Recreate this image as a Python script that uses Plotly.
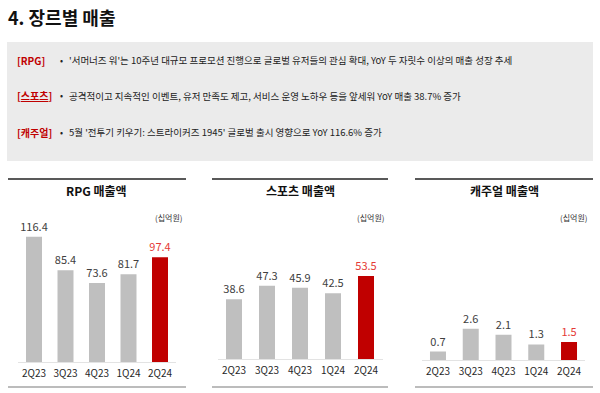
import plotly.graph_objects as go

W, H = 600, 393
FONT = "Noto Sans CJK KR"

quarters = ["2Q23", "3Q23", "4Q23", "1Q24", "2Q24"]
rpg_values = [116.4, 85.4, 73.6, 81.7, 97.4]
sports_values = [38.6, 47.3, 45.9, 42.5, 53.5]
casual_values = [0.7, 2.6, 2.1, 1.3, 1.5]

panel_titles = ["RPG 매출액", "스포츠 매출액", "캐주얼 매출액"]
unit_label = "(십억원)"
page_title = "4. 장르별 매출"
box_labels = ["[RPG]", "[<u>스포츠</u>]", "[캐주얼]"]
box_texts = [
    "'서머너즈 워'는 10주년 대규모 프로모션 진행으로 글로벌 유저들의 관심 확대, YoY 두 자릿수 이상의 매출 성장 추세",
    "공격적이고 지속적인 이벤트, 유저 만족도 제고, 서비스 운영 노하우 등을 앞세워 YoY 매출 38.7% 증가",
    "5월 '전투기 키우기: 스트라이커즈 1945' 글로벌 출시 영향으로 YoY 116.6% 증가",
]

GRAY = "#BFBFBF"
RED = "#C00000"
LABEL_GRAY = "#404040"
LABEL_RED = "#E53935"

def px_x(x):
    return x / W

def px_y(y):
    return 1 - y / H

# panel geometry (pixels)
panels = [
    dict(values=rpg_values, xl=18.25, xr=175.75, base=362, scale=1.075, line=(8, 186), title_x=97, unit_x=185),
    dict(values=sports_values, xl=217.5, xr=382.5, base=359, scale=1.55, line=(212, 388), title_x=300, unit_x=387),
    dict(values=casual_values, xl=421.6, xr=585.4, base=360, scale=12.0, line=(415, 593), title_x=504, unit_x=590),
]
TOP = 200

fig = go.Figure()
layout_axes = {}
annotations = []
shapes = []

for i, p in enumerate(panels, start=1):
    xa = "x" if i == 1 else f"x{i}"
    ya = "y" if i == 1 else f"y{i}"
    vals = p["values"]
    colors = [GRAY] * (len(vals) - 1) + [RED]
    tcolors = [LABEL_GRAY] * (len(vals) - 1) + [LABEL_RED]
    spacing = (p["xr"] - p["xl"]) / len(vals)
    fig.add_trace(go.Bar(
        x=quarters, y=vals, xaxis=xa, yaxis=ya,
        marker=dict(color=colors, line=dict(width=0)),
        width=16 / spacing,
        text=[f"{v:.1f}" for v in vals], textposition="outside",
        constraintext="none",
        textfont=dict(family=FONT, size=11, color=tcolors),
        cliponaxis=False, hoverinfo="skip", showlegend=False,
    ))
    h_px = p["base"] - TOP
    key_x = "xaxis" if i == 1 else f"xaxis{i}"
    key_y = "yaxis" if i == 1 else f"yaxis{i}"
    layout_axes[key_x] = dict(
        domain=[px_x(p["xl"]), px_x(p["xr"])], anchor=ya,
        showgrid=False, zeroline=False, showline=True, linecolor="#E3E3E3", linewidth=1,
        ticks="outside", ticklen=2, tickcolor="rgba(0,0,0,0)",
        tickfont=dict(family=FONT, size=10, color="#262626"), fixedrange=True,
    )
    layout_axes[key_y] = dict(
        domain=[px_y(p["base"]), px_y(TOP)], anchor=xa,
        range=[0, h_px / p["scale"]], visible=False, fixedrange=True,
    )
    # top and bottom rules
    shapes.append(dict(type="line", xref="paper", yref="paper",
                       x0=px_x(p["line"][0]), x1=px_x(p["line"][1]),
                       y0=px_y(179), y1=px_y(179), line=dict(color="#595959", width=2)))
    shapes.append(dict(type="line", xref="paper", yref="paper",
                       x0=px_x(p["line"][0]), x1=px_x(p["line"][1]),
                       y0=px_y(387), y1=px_y(387), line=dict(color="#A6A6A6", width=1.5)))
    annotations.append(dict(text=f"<b>{panel_titles[i-1]}</b>", xref="paper", yref="paper",
                            x=px_x(p["title_x"]), y=px_y(191), xanchor="center", yanchor="middle",
                            showarrow=False, font=dict(family=FONT, size=12, color="#111111")))
    annotations.append(dict(text=unit_label, xref="paper", yref="paper",
                            x=px_x(p["unit_x"]), y=px_y(217), xanchor="right", yanchor="middle",
                            showarrow=False, font=dict(family=FONT, size=8, color="#333333")))

# grey info box
shapes.append(dict(type="rect", xref="paper", yref="paper", layer="below",
                   x0=px_x(7), x1=px_x(593), y0=px_y(161), y1=px_y(42),
                   fillcolor="#EBEBEB", line=dict(width=0)))

for lab, txt, yy in zip(box_labels, box_texts, [60, 96, 132]):
    annotations.append(dict(text=f"<b>{lab}</b>", xref="paper", yref="paper",
                            x=px_x(15), y=px_y(yy), xanchor="left", yanchor="middle",
                            showarrow=False, font=dict(family=FONT, size=10, color=RED)))
    annotations.append(dict(text="•", xref="paper", yref="paper",
                            x=px_x(58), y=px_y(yy), xanchor="left", yanchor="middle",
                            showarrow=False, font=dict(family=FONT, size=9, color="#222222")))
    annotations.append(dict(text=txt, xref="paper", yref="paper",
                            x=px_x(67), y=px_y(yy), xanchor="left", yanchor="middle",
                            showarrow=False, font=dict(family=FONT, size=9.5, color="#222222")))

annotations.append(dict(text=f"<b>{page_title}</b>", xref="paper", yref="paper",
                        x=px_x(6), y=px_y(17), xanchor="left", yanchor="middle",
                        showarrow=False, font=dict(family=FONT, size=18, color="#111111")))

fig.update_layout(
    width=W, height=H, margin=dict(l=0, r=0, t=0, b=0),
    paper_bgcolor="white", plot_bgcolor="white",
    annotations=annotations, shapes=shapes, **layout_axes,
)

fig.write_html("out.html", config={"displayModeBar": False},
               post_script="document.body.style.margin='0';document.body.style.overflow='hidden';")
